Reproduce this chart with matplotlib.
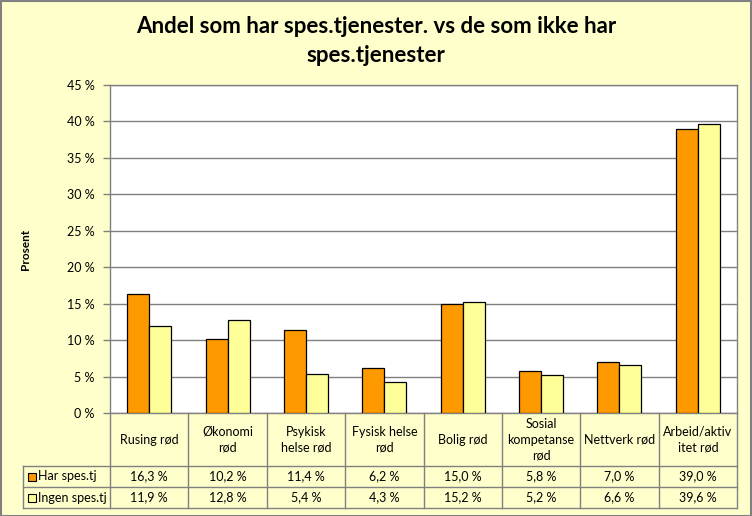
import matplotlib
matplotlib.use("Agg")
import matplotlib.pyplot as plt
import matplotlib.transforms as mtransforms
from matplotlib.patches import Rectangle
import numpy as np

categories = ["Rusing rød", "Økonomi\nrød", "Psykisk\nhelse rød", "Fysisk helse\nrød",
              "Bolig rød", "Sosial\nkompetanse\nrød", "Nettverk rød", "Arbeid/aktiv\nitet rød"]
series_names = ["Har spes.tj", "Ingen spes.tj"]
har = [16.3, 10.2, 11.4, 6.2, 15.0, 5.8, 7.0, 39.0]
ingen = [11.9, 12.8, 5.4, 4.3, 15.2, 5.2, 6.6, 39.6]
yticks = [0, 5, 10, 15, 20, 25, 30, 35, 40, 45]
title = "Andel som har spes.tjenester. vs de som ikke har\nspes.tjenester"

plt.rcParams['font.family'] = ['Lato', 'DejaVu Sans']

W, H = 752, 516
BG = "#FFFFCC"
ORANGE = "#FF9900"
YELLOW = "#FFFF99"
GRID = "#808080"

fig = plt.figure(figsize=(W / 100, H / 100), dpi=100, facecolor=BG)

px_l, px_r, px_t, px_b = 110, 737, 85, 413
ax = fig.add_axes([px_l / W, (H - px_b) / H, (px_r - px_l) / W, (px_b - px_t) / H])
ax.set_facecolor("white")

n = len(categories)
x = np.arange(n)
bw = 0.28
ax.bar(x - bw / 2, har, bw, color=ORANGE, edgecolor="black", linewidth=0.9, zorder=3)
ax.bar(x + bw / 2, ingen, bw, color=YELLOW, edgecolor="black", linewidth=0.9, zorder=3)

ax.set_xlim(-0.5, n - 0.5)
ax.set_ylim(0, 45)
ax.set_yticks(yticks)
ax.set_yticklabels([f"{v} %" for v in yticks], fontsize=9)
ax.yaxis.grid(True, color=GRID, linewidth=1, zorder=0)
ax.set_xticks([])
ax.tick_params(axis='y', length=5, color=GRID, width=1, pad=6)
for s in ax.spines.values():
    s.set_color(GRID)
    s.set_linewidth(1)

ax.set_ylabel("Prosent", fontsize=8.5, fontweight="bold", labelpad=26)

fig.text(0.5, 1 - 41 / H, title, ha="center", va="center", fontsize=16,
         fontweight="bold", linespacing=1.45)

# data table
trans = mtransforms.blended_transform_factory(ax.transData, ax.transAxes)
colw = (px_r - px_l) / n
def fy(py):
    return (px_b - py) / (px_b - px_t)

y_head = fy(466)
y_r1 = fy(487)
y_r2 = fy(508)
x_leg = -0.5 - (px_l - 23) / colw

lk = dict(color=GRID, linewidth=1, transform=trans, clip_on=False)
for b in np.arange(-0.5, n + 0.5, 1.0):
    ax.plot([b, b], [0, y_r2], **lk)
ax.plot([x_leg, x_leg], [y_head, y_r2], **lk)
for yy in (y_head, y_r1, y_r2):
    ax.plot([x_leg, n - 0.5], [yy, yy], **lk)

fs = 9
for i, c in enumerate(categories):
    ax.text(i, (0 + y_head) / 2, c, transform=trans, ha="center", va="center",
            fontsize=fs, linespacing=1.35)
    ax.text(i, (y_head + y_r1) / 2, f"{har[i]:.1f} %".replace(".", ","), transform=trans,
            ha="center", va="center", fontsize=fs)
    ax.text(i, (y_r1 + y_r2) / 2, f"{ingen[i]:.1f} %".replace(".", ","), transform=trans,
            ha="center", va="center", fontsize=fs)

for yc, name, col in (((y_head + y_r1) / 2, series_names[0], ORANGE),
                      ((y_r1 + y_r2) / 2, series_names[1], YELLOW)):
    sq_w = 8 / colw
    sq_h = 8 / (px_b - px_t)
    ax.add_patch(Rectangle((x_leg + 5 / colw, yc - sq_h / 2), sq_w, sq_h, facecolor=col,
                           edgecolor="black", linewidth=0.8, transform=trans, clip_on=False))
    ax.text(x_leg + 15 / colw, yc, name, transform=trans, ha="left", va="center", fontsize=fs)

# outer border
fig.patches.append(Rectangle((0.5 / W, 0.5 / H), 1 - 1.5 / W, 1 - 1.5 / H, transform=fig.transFigure,
                             fill=False, edgecolor=GRID, linewidth=1.5))

fig.savefig("out.png", dpi=100, facecolor=BG)
